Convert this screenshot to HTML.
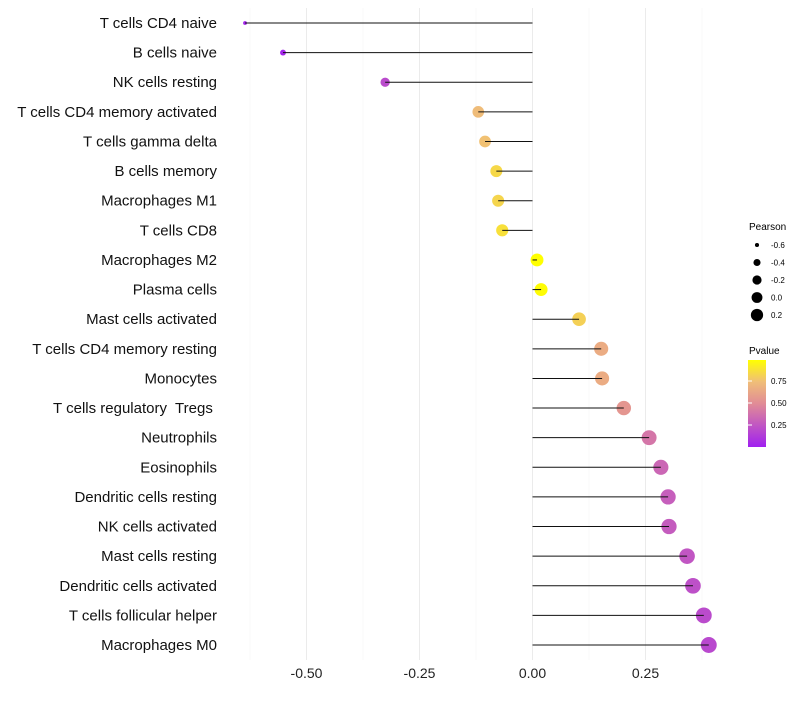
<!DOCTYPE html>
<html><head><meta charset="utf-8"><style>
body{margin:0;background:#fff;font-family:"Liberation Sans",sans-serif}
svg text{font-family:"Liberation Sans",sans-serif;white-space:pre}
</style></head><body>
<svg id="chart" width="800" height="700">
<defs><linearGradient id="pg" x1="0" y1="1" x2="0" y2="0">
<stop offset="0" stop-color="rgb(160,32,240)"/><stop offset="0.5" stop-color="rgb(225,140,150)"/><stop offset="0.75" stop-color="rgb(240,190,120)"/><stop offset="1" stop-color="rgb(255,255,0)"/></linearGradient></defs>
<g id="grid"></g><g id="marks"></g><g id="labels"></g>
<g>
<text x="749" y="230" font-size="10">Pearson</text>
<g id="sizeleg"></g>
</g>
<g>
<text x="749" y="354" font-size="10">Pvalue</text>
<rect x="748" y="360" width="18" height="87" fill="url(#pg)"/>
<g id="colleg"></g>
</g>
</svg>
<script>
const categories=["T cells CD4 naive","B cells naive","NK cells resting","T cells CD4 memory activated","T cells gamma delta","B cells memory","Macrophages M1","T cells CD8","Macrophages M2","Plasma cells","Mast cells activated","T cells CD4 memory resting","Monocytes","T cells regulatory  Tregs ","Neutrophils","Eosinophils","Dendritic cells resting","NK cells activated","Mast cells resting","Dendritic cells activated","T cells follicular helper","Macrophages M0"];
const pearson=[-0.636,-0.552,-0.326,-0.12,-0.105,-0.08,-0.076,-0.067,0.01,0.019,0.103,0.152,0.154,0.202,0.258,0.284,0.30,0.302,0.342,0.355,0.379,0.39];
const pvalue=[0.02,0.03,0.2,0.74,0.76,0.85,0.84,0.88,1.0,0.99,0.82,0.66,0.66,0.55,0.4,0.33,0.29,0.28,0.25,0.22,0.2,0.19];
const xTicks=[-0.5,-0.25,0,0.25];
const xMinor=[-0.625,-0.375,-0.125,0.125,0.375];
const sizeLegend=[-0.6,-0.4,-0.2,0.0,0.2];
const colorTicks=[0.25,0.5,0.75];
const NS="http://www.w3.org/2000/svg";
const X=v=>532.5+v*452;
const Y=i=>23+i*29.62;
const R=v=>Math.sqrt(Math.max(v+0.7,0.02)/1.1)*8;
function col(p){const s=[[160,32,240],[225,140,150],[240,190,120],[255,255,0]];const o=[0,0.5,0.75,1];p=Math.min(Math.max(p,0),1);let i=p<0.5?0:(p<0.75?1:2);let f=(p-o[i])/(o[i+1]-o[i]);const c=s[i].map((a,k)=>Math.round(a+(s[i+1][k]-a)*f));return `rgb(${c})`;}
function mk(tag,a,parent){const e=document.createElementNS(NS,tag);for(const k in a)e.setAttribute(k,a[k]);document.getElementById(parent).appendChild(e);return e;}
xMinor.forEach(v=>{const l=mk('line',{x1:X(v),x2:X(v),y1:8,y2:660,stroke:'#f4f4f4','stroke-width':0.6},'grid');

});
xTicks.forEach(v=>{const l=mk('line',{x1:X(v),x2:X(v),y1:8,y2:660,stroke:'#ebebeb','stroke-width':1},'grid');


const t=mk('text',{x:X(v),y:678,'font-size':14,'text-anchor':'middle',fill:'#222'},'labels');t.textContent=v.toFixed(2);

});
categories.forEach((c,i)=>{const y=Y(i);
const d=mk('circle',{cx:X(pearson[i]),cy:y,r:R(pearson[i]),fill:col(pvalue[i])},'marks');


const l=mk('line',{x1:X(0),x2:X(pearson[i]),y1:y,y2:y,stroke:'#111','stroke-width':1},'marks');


const t=mk('text',{x:217,y:y+5,'font-size':15,'text-anchor':'end',fill:'#111'},'labels');t.textContent=c;

});
sizeLegend.forEach((v,i)=>{const y=245+i*17.5;
const c=mk('circle',{cx:757,cy:y,r:R(v)*0.85,fill:'#000'},'sizeleg');


const t=mk('text',{x:771,y:y+3,'font-size':8},'sizeleg');t.textContent=v.toFixed(1);

});
colorTicks.forEach(v=>{const y=447-v*88;
const l=mk('line',{x1:748,x2:752,y1:y,y2:y,stroke:'#fff'},'colleg');


const t=mk('text',{x:771,y:y+3,'font-size':8},'colleg');t.textContent=v.toFixed(2);

});
</script>
</body></html>
